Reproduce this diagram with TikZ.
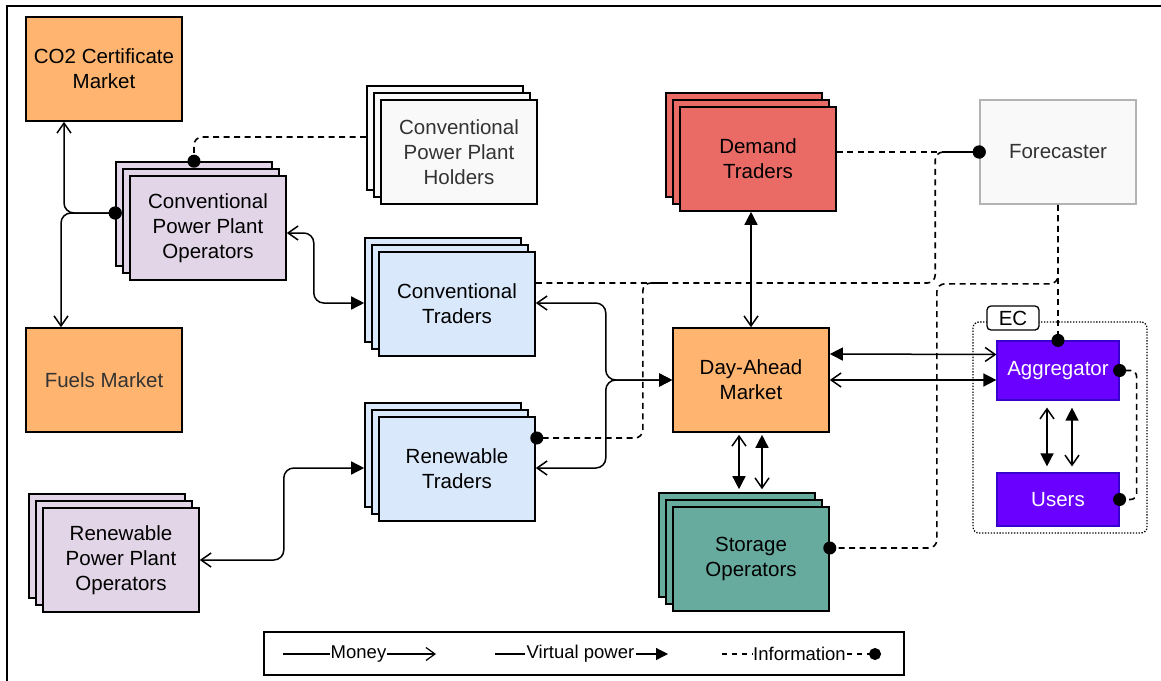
\documentclass[tikz,border=0pt]{standalone}
\usepackage{fontspec}
\setmainfont{Liberation Sans}
\usetikzlibrary{arrows.meta,calc,shadows}

\definecolor{marketorange}{HTML}{FFB570}
\definecolor{plantlilac}{HTML}{E1D5E7}
\definecolor{traderblue}{HTML}{DAE8FC}
\definecolor{palegray}{HTML}{F9F9F9}
\definecolor{demandred}{HTML}{EA6B66}
\definecolor{storagegreen}{HTML}{67AB9F}
\definecolor{ecviolet}{HTML}{6A00FF}
\definecolor{ecborder}{HTML}{3700CC}
\definecolor{fcborder}{HTML}{B3B3B3}
\definecolor{softtext}{HTML}{333333}

\newcommand\boxfont{\fontsize{20.5pt}{24.8pt}\selectfont}
\newcommand\legendfont{\fontsize{18.5pt}{22pt}\selectfont}

\tikzset{
  mtip/.tip={Straight Barb[length=10pt,width=14pt]},
  vtip/.tip={Triangle[length=13pt,width=13pt]},
  dtip/.tip={Circle[length=13pt]},
  box/.style={draw=black, line width=1.6pt, minimum width=156pt,
    minimum height=104pt, inner sep=2pt, align=center, font=\boxfont},
  stack/.style={box, fill=#1,
    copy shadow={shadow xshift=-14pt, shadow yshift=14pt, fill=#1,
      draw=black, line width=1.6pt},
    copy shadow={shadow xshift=-7pt, shadow yshift=7pt, fill=#1,
      draw=black, line width=1.6pt}},
  ecbox/.style={draw=ecborder, fill=ecviolet, line width=1.2pt,
    text=white, font=\boxfont, minimum width=122pt},
  flow/.style={line width=1.5pt, rounded corners=10pt},
  info/.style={line width=1.6pt, dash pattern=on 6pt off 4.5pt,
    rounded corners=8pt},
  enddot/.style={-dtip, shorten >=-6.5pt},
  startdot/.style={shorten <=-6.5pt},
  legtext/.style={font=\legendfont, inner sep=1pt},
}

\begin{document}
\begin{tikzpicture}[x=1pt,y=-1pt]
\useasboundingbox (0,0) rectangle (1161,680);

% outer frame
\draw[line width=1.5pt] (7,700) -- (7,6) -- (1180,6);

% markets
\node[box, fill=marketorange] (co2) at (104,69) {CO2 Certificate\\Market};
\node[box, fill=marketorange, text=softtext] (fuels) at (104,380) {Fuels Market};
\node[box, fill=marketorange] (dam) at (751,380) {Day-Ahead\\Market};

% agents
\node[stack=plantlilac] (cppo) at (208,228) {Conventional\\Power Plant\\Operators};
\node[stack=palegray, text=softtext] (cpph) at (459,152) {Conventional\\Power Plant\\Holders};
\node[stack=traderblue] (ct) at (457,304) {Conventional\\Traders};
\node[stack=traderblue] (rt) at (457,469) {Renewable\\Traders};
\node[stack=plantlilac] (rppo) at (121,560) {Renewable\\Power Plant\\Operators};
\node[stack=demandred] (dt) at (758,159) {Demand\\Traders};
\node[stack=storagegreen] (so) at (751,559) {Storage\\Operators};
\node[box, fill=palegray, draw=fcborder, text=softtext] (fc) at (1058,152) {Forecaster};

% energy community
\node[draw, line width=1.3pt, dash pattern=on 1.3pt off 1.6pt,
  rounded corners=6pt, minimum width=174pt, minimum height=211pt]
  (ec) at (1060,427.5) {};
\node[draw, fill=white, line width=1.3pt, rounded corners=4pt,
  minimum width=52pt, minimum height=24pt, inner sep=0pt, font=\boxfont]
  (eclabel) at (1013,318) {EC};
\node[ecbox, minimum height=59pt] (agg) at (1058,370.5) {Aggregator};
\node[ecbox, minimum height=53pt] (users) at (1058,499.5) {Users};

% money and virtual power flows
\coordinate (cppoL) at ($(cppo.west)+(-14,-15)$);
\draw[flow, dtip-mtip, startdot] (cppoL) -| ([xshift=-40pt]co2.south);
\draw[flow, dtip-mtip, startdot] (cppoL) -| ([xshift=-43pt]fuels.north);
\draw[flow, mtip-vtip] ($(cppo.east)+(0,5)$) -- ++(27,0) |- ($(ct.west)+(-14,-1)$);
\draw[flow, mtip-vtip] ($(ct.east)+(0,-1)$) -- ++(70,0) |- (dam.west);
\draw[flow, mtip-vtip] ($(rt.east)+(0,-1)$) -- ++(70,0) |- (dam.west);
\draw[flow, mtip-vtip] (rppo.east) -- ++(84,0) |- ($(rt.west)+(-14,-1)$);
\draw[flow, vtip-mtip] (dam.north |- dt.south) -- (dam.north);
\draw[flow, vtip-mtip] ($(dam.east)+(0,-26)$) -- ($(agg.west)+(0,-16)$);
\draw[flow, mtip-vtip] (dam.east) -- (agg.west |- dam.east);
\draw[flow, mtip-vtip, shorten <=2pt, shorten >=3pt]
  ($(dam.south)+(-12,0)$) -- ($(so.north)+(-12,-14)$);
\draw[flow, vtip-mtip, shorten <=2pt, shorten >=3pt]
  ($(dam.south)+(11,0)$) -- ($(so.north)+(11,-14)$);
\draw[flow, mtip-vtip, shorten <=7pt, shorten >=6pt]
  ($(agg.south)+(-11,0)$) -- ($(users.north)+(-11,0)$);
\draw[flow, vtip-mtip, shorten <=7pt, shorten >=6pt]
  ($(agg.south)+(14,0)$) -- ($(users.north)+(14,0)$);

% information flows
\coordinate (infojoin) at (662,283);
\draw[info, enddot] ($(cpph.west)+(-14,-15)$) -| ($(cppo.north)+(-14,-14)$);
\draw[info, enddot] ($(dt.east)+(0,-7)$) -- (fc.west);
\draw[info, enddot] ($(ct.east)+(0,-21)$) -| ($(fc.west)+(-44,0)$) -- (fc.west);
\draw[info, dtip-, startdot] ($(rt.east)+(1,-31)$) -- ++(106,0) |- (infojoin);
\draw[info, enddot] (fc.south) -- ++(0,79) -| ($(so.east)+(107,-11)$) -- ($(so.east)+(0,-11)$);
\draw[info, enddot] (fc.south) -- (agg.north);
\draw[info, dtip-dtip, startdot, shorten >=-6.5pt, rounded corners=6pt]
  (agg.east) -- ++(17,0) |- (users.east);

% legend
\node[draw, line width=1.2pt, minimum width=640pt, minimum height=43pt] (legend) at (584,653.5) {};
\node[legtext] (lgmoney) at (358.5,654) {Money};
\node[legtext] (lgpower) at (580.5,654) {Virtual power};
\node[legtext] (lginfo) at (799.5,654) {Information};
\coordinate (lm1) at (283,654);
\coordinate (lm2) at (436,654);
\coordinate (lv1) at (495,654);
\coordinate (lv2) at (668,654);
\coordinate (li1) at (722,654);
\coordinate (li2) at (875,654);
\draw[line width=1.2pt] (lm1) -- (lgmoney.west);
\draw[line width=1.2pt, -{Straight Barb[length=9pt,width=13pt]}] (lgmoney.east) -- (lm2);
\draw[line width=1.2pt] (lv1) -- (lgpower.west);
\draw[line width=1.2pt, -{Triangle[length=12pt,width=12pt]}] (lgpower.east) -- (lv2);
\draw[line width=1.3pt, dash pattern=on 5pt off 5pt] (li1) -- (lginfo.west);
\draw[line width=1.3pt, dash pattern=on 5pt off 5pt, -{Circle[length=12pt]}, shorten >=-6pt]
  (lginfo.east) -- (li2);
\end{tikzpicture}
\end{document}
